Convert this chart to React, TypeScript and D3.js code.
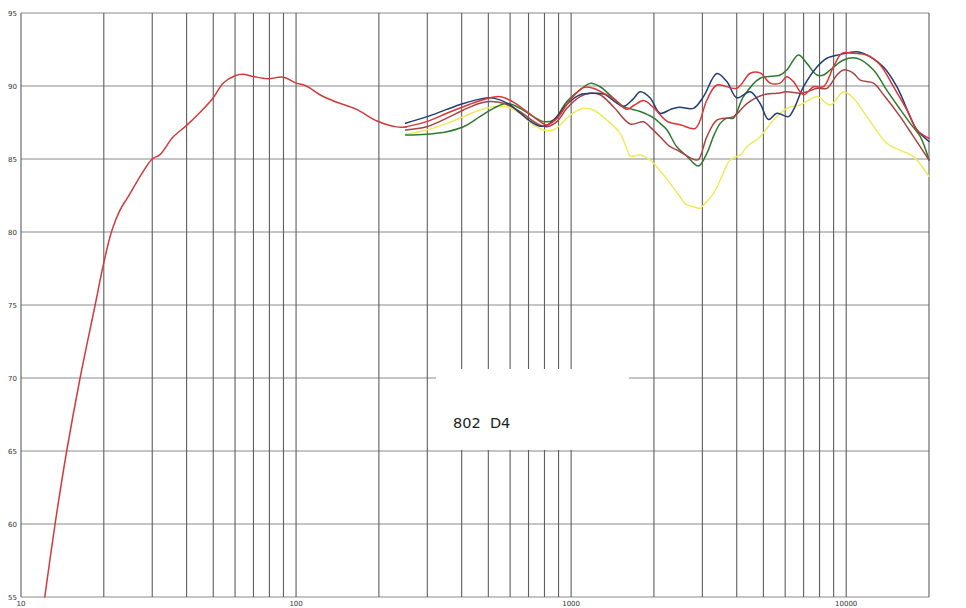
import React from "react";
import * as d3 from "d3";

const W = 966;
const H = 608;

// x tick labels and gridlines
const xLabels = [10, 100, 1000, 10000];
const xGrid = [10, 20, 30, 40, 50, 60, 70, 80, 90, 100, 200, 300, 400, 500, 600, 700, 800, 900, 1000, 2000, 3000, 4000, 5000, 6000, 7000, 8000, 9000, 10000, 20000];
const yTicks = [55, 60, 65, 70, 75, 80, 85, 90, 95];

const boxLabel = "802  D4";

// [frequency Hz, dB]
const mainCurve: [number, number][] = [
  [12.2, 55], [13.3, 60], [14.66, 65], [16.4, 70], [18.6, 75], [20, 77.9], [21.4, 80.1], [22.9, 81.5],
  [24.5, 82.4], [27.5, 84.0], [30, 85.0], [32, 85.3], [35.7, 86.5], [40, 87.3], [44.8, 88.2], [50, 89.2],
  [54.4, 90.2], [60, 90.7], [64, 90.8], [70, 90.65], [79, 90.5], [90, 90.6], [100, 90.2], [109, 90.0],
  [122, 89.4], [140, 88.9], [166, 88.4], [197, 87.6], [232, 87.2], [252, 87.2],
];

const navy: [number, number][] = [
  [250, 87.45], [300, 87.9], [353, 88.4], [406, 88.8], [466, 89.1], [507, 89.2], [551, 89.05], [600, 88.7],
  [652, 88.15], [709, 87.6], [771, 87.25], [816, 87.3], [888, 87.9], [965, 88.75], [1078, 89.4], [1200, 89.5],
  [1315, 89.45], [1450, 88.9], [1549, 88.6], [1680, 89.1], [1783, 89.6], [1935, 89.2], [2105, 88.13], [2300, 88.4],
  [2470, 88.55], [2784, 88.47], [3027, 89.27], [3388, 90.85], [3683, 90.3], [4000, 89.2], [4478, 89.6], [4866, 88.8],
  [5218, 87.7], [5597, 88.13], [6170, 87.9], [6427, 88.36], [6998, 89.95], [7828, 91.3], [8507, 91.9], [9506, 92.15],
  [10938, 92.35], [12230, 92.0], [13667, 91.3], [15280, 89.95], [17090, 87.9], [18070, 87.0], [20000, 86.2],
];

const red: [number, number][] = [
  [250, 87.2], [298, 87.56], [353, 88.13], [406, 88.58], [466, 88.99], [551, 89.27], [612, 88.93], [690, 88.25],
  [771, 87.56], [816, 87.33], [888, 87.78], [992, 89.04], [1109, 89.9], [1205, 89.84], [1315, 89.5], [1425, 89.16],
  [1594, 88.4], [1700, 88.7], [1834, 89.0], [2000, 88.5], [2228, 87.6], [2510, 87.33], [2830, 87.1], [3116, 89.04],
  [3388, 90.07], [4000, 89.84], [4478, 90.87], [4866, 90.9], [5291, 90.2], [5754, 90.2], [6085, 90.64], [6427, 90.3],
  [6998, 89.4], [7607, 89.95], [8270, 89.95], [8989, 91.32], [9647, 92.24], [10629, 92.24], [11895, 92.12],
  [13295, 91.44], [14860, 89.95], [16620, 88.36], [18070, 86.99], [20000, 86.42],
];

const darkRed: [number, number][] = [
  [250, 86.99], [298, 87.21], [353, 87.8], [406, 88.36], [466, 88.82], [507, 88.93], [567, 88.82], [652, 88.25],
  [750, 87.44], [816, 87.21], [888, 87.56], [965, 88.47], [1078, 89.27], [1172, 89.5], [1274, 89.4], [1425, 88.58],
  [1640, 87.4], [1834, 87.55], [1935, 87.2], [2105, 86.53], [2291, 85.84], [2421, 85.62], [2784, 84.98], [2900, 84.95],
  [3116, 86.53], [3388, 87.67], [3890, 87.9], [4355, 88.8], [5000, 89.4], [5597, 89.5], [6085, 89.6], [6800, 89.5],
  [7194, 89.6], [7828, 89.84], [8507, 89.84], [9252, 90.75], [9773, 91.1], [10629, 90.87], [11246, 90.4],
  [12566, 90.2], [13667, 89.4], [15710, 87.9], [17570, 86.53], [20000, 84.93],
];

const green: [number, number][] = [
  [250, 86.64], [298, 86.7], [353, 86.87], [406, 87.21], [466, 87.9], [522, 88.47], [584, 88.82], [652, 88.47],
  [730, 87.9], [793, 87.56], [862, 87.67], [965, 88.93], [1078, 89.73], [1172, 90.18], [1274, 89.95], [1425, 89.16],
  [1549, 88.6], [1783, 88.25], [2000, 87.8], [2106, 87.44], [2228, 87.0], [2421, 85.84], [2634, 85.2], [2904, 84.52],
  [3116, 85.4], [3300, 86.6], [3483, 87.44], [3683, 87.8], [3890, 87.8], [4232, 89.27], [4866, 90.53], [5754, 90.75],
  [6085, 91.1], [6706, 92.12], [7194, 91.55], [7828, 90.75], [8270, 90.75], [8750, 91.1], [9773, 91.78],
  [10938, 91.9], [12566, 91.1], [14060, 89.7], [15710, 88.4], [17090, 87.44], [18600, 86.53], [20000, 84.93],
];

const yellow: [number, number][] = [
  [250, 86.7], [298, 86.99], [353, 87.44], [406, 87.9], [466, 88.36], [522, 88.58], [584, 88.58], [652, 88.13],
  [730, 87.33], [793, 86.99], [862, 86.99], [912, 87.33], [992, 88.0], [1109, 88.47], [1205, 88.36], [1349, 87.67],
  [1507, 86.76], [1594, 85.7], [1640, 85.2], [1783, 85.27], [1935, 84.93], [2106, 84.2], [2291, 83.33], [2470, 82.5],
  [2634, 81.85], [2784, 81.73], [2944, 81.62], [3027, 81.85], [3293, 82.65], [3483, 83.56], [3783, 84.93], [4130, 85.3],
  [4355, 85.84], [4866, 86.53], [5440, 87.67], [6085, 88.47], [6800, 88.7], [7828, 89.27], [8750, 88.7], [9773, 89.6],
  [10629, 89.16], [11895, 87.9], [14060, 86.08], [16150, 85.5], [17570, 85.16], [20000, 83.8],
];

const series: { data: [number, number][]; color: string }[] = [
  { data: yellow, color: "#efea5c" },
  { data: green, color: "#2f7a30" },
  { data: darkRed, color: "#a94444" },
  { data: navy, color: "#223d72" },
  { data: red, color: "#dd3535" },
  { data: mainCurve, color: "#d23a3a" },
];

export default function App() {
  const x = d3.scaleLog().domain([10, 20000]).range([21, 929]);
  const y = d3.scaleLinear().domain([55, 95]).range([597, 13]);
  const line = d3
    .line<[number, number]>()
    .x((d) => x(d[0]))
    .y((d) => y(d[1]))
    .curve(d3.curveCatmullRom.alpha(0.5));

  const box = { x0: 436, x1: 629, y0: 369, y1: 450 };

  return (
    <svg
      width={W}
      height={H}
      style={{ position: "absolute", left: 0, top: 0, background: "#fff" }}
      fontFamily="DejaVu Sans, Verdana, sans-serif"
    >
      <rect x={0} y={0} width={W} height={H} fill="#fff" />
      <g>
        {yTicks.map((t) => (
          <line key={"h" + t} x1={x(10)} x2={x(20000)} y1={y(t)} y2={y(t)} stroke="#8a8a8a" strokeWidth={1} />
        ))}
        {xGrid.map((f) => (
          <line key={"v" + f} x1={x(f)} x2={x(f)} y1={y(95)} y2={y(55)} stroke="#5e5e5e" strokeWidth={1.1} />
        ))}
      </g>
      <rect x={box.x0} y={box.y0} width={box.x1 - box.x0} height={box.y1 - box.y0} fill="#fff" />
      <text x={453} y={428} fontSize={14.5} fill="#222" style={{ whiteSpace: "pre" }}>
        {boxLabel}
      </text>
      <g fill="#333" fontSize={7}>
        {yTicks.map((t) => (
          <text key={"yl" + t} x={17} y={y(t) + 2.5} textAnchor="end">
            {t}
          </text>
        ))}
        {xLabels.map((f) => (
          <text key={"xl" + f} x={x(f)} y={606} textAnchor="middle">
            {f}
          </text>
        ))}
      </g>
      <g fill="none" strokeLinejoin="round" strokeLinecap="round">
        {series.map((s, i) => (
          <path key={i} d={line(s.data) || ""} stroke={s.color} strokeWidth={1.5} />
        ))}
      </g>
    </svg>
  );
}
